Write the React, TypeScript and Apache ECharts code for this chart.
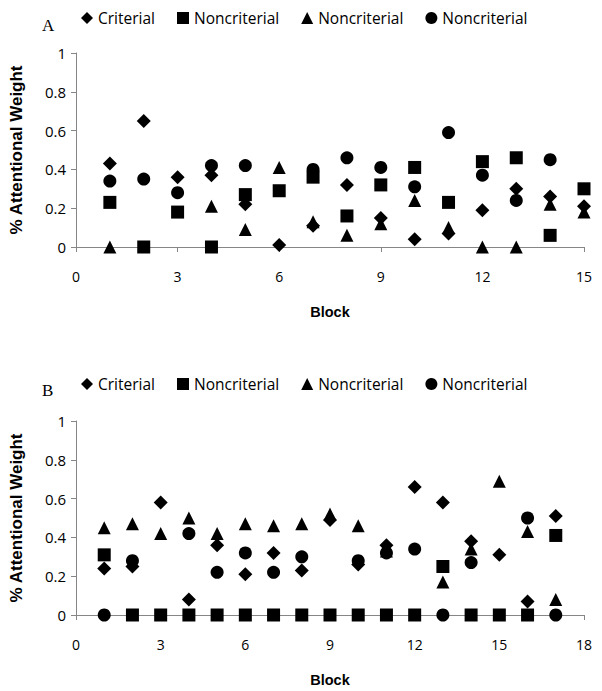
import React, { useEffect, useRef } from "react";
import * as echarts from "echarts";

const seriesNames = ["Criterial", "Noncriterial", "Noncriterial", "Noncriterial"];
const symbols = ["diamond", "rect", "triangle", "circle"];

const blocksA = [1, 2, 3, 4, 5, 6, 7, 8, 9, 10, 11, 12, 13, 14, 15];
const critA = [0.43, 0.65, 0.36, 0.37, 0.22, 0.01, 0.11, 0.32, 0.15, 0.04, 0.07, 0.19, 0.30, 0.26, 0.21];
const squareA = [0.23, 0, 0.18, 0, 0.27, 0.29, 0.36, 0.16, 0.32, 0.41, 0.23, 0.44, 0.46, 0.06, 0.30];
const triA = [0, null, null, 0.21, 0.09, 0.41, 0.13, 0.06, 0.12, 0.24, 0.10, 0, 0, 0.22, 0.18];
const circA = [0.34, 0.35, 0.28, 0.42, 0.42, null, 0.40, 0.46, 0.41, 0.31, 0.59, 0.37, 0.24, 0.45, null];

const blocksB = [1, 2, 3, 4, 5, 6, 7, 8, 9, 10, 11, 12, 13, 14, 15, 16, 17];
const critB = [0.24, 0.25, 0.58, 0.08, 0.36, 0.21, 0.32, 0.23, 0.49, 0.26, 0.36, 0.66, 0.58, 0.38, 0.31, 0.07, 0.51];
const squareB = [0.31, 0, 0, 0, 0, 0, 0, 0, 0, 0, 0, 0, 0.25, 0, 0, 0, 0.41];
const triB = [0.45, 0.47, 0.42, 0.50, 0.42, 0.47, 0.46, 0.47, 0.52, 0.46, 0.33, null, 0.17, 0.34, 0.69, 0.43, 0.08];
const circB = [0, 0.28, null, 0.42, 0.22, 0.32, 0.22, 0.30, null, 0.28, 0.32, 0.34, 0, 0.27, null, 0.50, 0];

const yTicks = [0, 0.2, 0.4, 0.6, 0.8, 1];

const FONT = "'Open Sans', 'Noto Sans', sans-serif";
const TITLE_FONT = "'Liberation Sans', Arial, sans-serif";
const AXIS_COLOR = "#868686";

function pairs(xs: number[], ys: (number | null)[]) {
  return xs.map((x, i) => [x, ys[i]]).filter((p) => p[1] !== null);
}

export default function App() {
  const ref = useRef<HTMLDivElement>(null);
  useEffect(() => {
    const chart = echarts.init(ref.current!, null, { renderer: "svg" });
    const setsA = [critA, squareA, triA, circA];
    const setsB = [critB, squareB, triB, circB];
    const series: any[] = [];
    const mk = (prefix: string, axis: number, blocks: number[], sets: (number | null)[][]) => {
      sets.forEach((s, i) => {
        series.push({
          type: "scatter",
          name: prefix + i,
          xAxisIndex: axis,
          yAxisIndex: axis,
          symbol: symbols[i],
          symbolSize: i === 0 ? [14, 14] : 13,
          itemStyle: { color: "#000", opacity: 1 },
          emphasis: { disabled: true },
          data: pairs(blocks, s),
        });
      });
    };
    mk("A-", 0, blocksA, setsA);
    mk("B-", 1, blocksB, setsB);
    const legendCommon = {
      left: 73,
      padding: 0,
      itemWidth: 12,
      itemHeight: 12,
      itemGap: 22,
      textStyle: { fontFamily: FONT, fontSize: 15.5, color: "#000" },
      formatter: (n: string) => seriesNames[Number(n.slice(2))],
    };
    const yAxisCommon = {
      type: "value",
      min: 0,
      max: 1,
      interval: 0.2,
      axisLine: { show: true, lineStyle: { color: AXIS_COLOR } },
      axisTick: { show: true, length: 5, lineStyle: { color: AXIS_COLOR } },
      splitLine: { show: false },
      axisLabel: {
        fontFamily: FONT,
        fontSize: 15,
        color: "#000",
        margin: 10,
        formatter: (v: number) => {
          const t = yTicks.find((tk) => Math.abs(tk - v) < 1e-6);
          return t === undefined ? "" : String(t);
        },
      },
      name: "% Attentional Weight",
      nameLocation: "middle",
      nameGap: 51,
      nameTextStyle: { fontFamily: TITLE_FONT, fontSize: 17, fontWeight: "bold", color: "#000" },
    };
    const xAxisCommon = {
      type: "value",
      min: 0,
      interval: 3,
      axisLine: { show: true, onZero: false, lineStyle: { color: AXIS_COLOR } },
      axisTick: { show: true, length: 5, lineStyle: { color: AXIS_COLOR } },
      splitLine: { show: false },
      axisLabel: { fontFamily: FONT, fontSize: 14, color: "#000", margin: 22 },
      name: "Block",
      nameLocation: "middle",
      nameGap: 57,
      nameTextStyle: { fontFamily: TITLE_FONT, fontSize: 14.5, fontWeight: "bold", color: "#000" },
    };
    chart.setOption({
      animation: false,
      backgroundColor: "#fff",
      grid: [
        { left: 68, top: 45, width: 508, height: 194, containLabel: false, outerBoundsMode: "none" },
        { left: 68, top: 413, width: 508, height: 194, containLabel: false, outerBoundsMode: "none" },
      ],
      legend: [
        {
          ...legendCommon,
          top: 2,
          data: [0, 1, 2, 3].map((i) => ({ name: "A-" + i, icon: symbols[i] })),
        },
        {
          ...legendCommon,
          top: 368,
          data: [0, 1, 2, 3].map((i) => ({ name: "B-" + i, icon: symbols[i] })),
        },
      ],
      xAxis: [
        { ...xAxisCommon, gridIndex: 0, max: 15 },
        { ...xAxisCommon, gridIndex: 1, max: 18 },
      ],
      yAxis: [
        { ...yAxisCommon, gridIndex: 0 },
        { ...yAxisCommon, gridIndex: 1 },
      ],
      graphic: [
        {
          type: "text",
          left: 34,
          top: 9,
          style: { text: "A", font: "17px 'Liberation Serif', serif", fill: "#000" },
        },
        {
          type: "text",
          left: 34,
          top: 374,
          style: { text: "B", font: "17px 'Liberation Serif', serif", fill: "#000" },
        },
      ],
      series,
    });
    return () => chart.dispose();
  }, []);
  return <div ref={ref} style={{ width: 594, height: 683 }} />;
}
